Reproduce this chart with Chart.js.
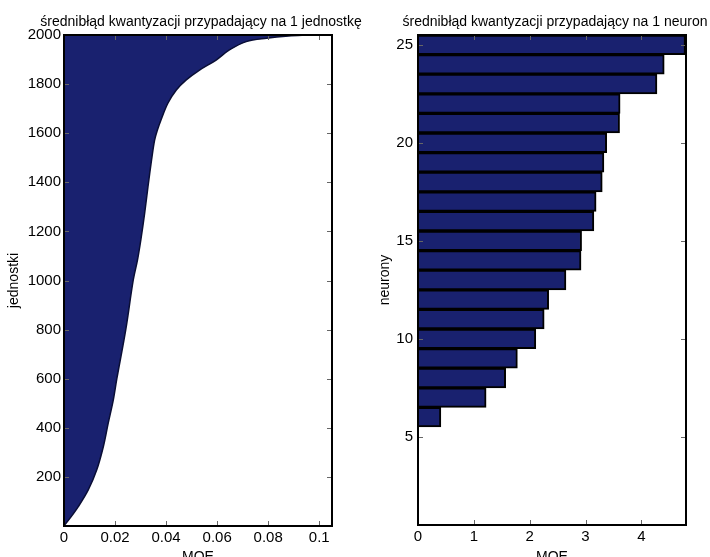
<!DOCTYPE html>
<html>
<head>
<meta charset="utf-8">
<script src="https://cdn.jsdelivr.net/npm/chart.js@4"></script>
<style>
  html, body { margin: 0; padding: 0; background: #fff; overflow: hidden; width: 710px; height: 557px; }
  .panel { position: absolute; top: 0; }
  #unitPanel { left: 0; }
  #neuronPanel { left: 355px; }
</style>
</head>
<body>
<div class="panel" id="unitPanel"><canvas id="unitChart" width="380" height="570"></canvas></div>
<div class="panel" id="neuronPanel"><canvas id="neuronChart" width="355" height="570"></canvas></div>
<script>
// sorted per-unit quantisation error (unit index -> MQE)
const unitIdx = [1, 31, 79, 147, 228, 323, 418, 513, 600, 800, 1000, 1084, 1165, 1274, 1382, 1491, 1572, 1613, 1654, 1722, 1776, 1817, 1857, 1898, 1939, 1973, 1987, 1996, 2000];
const unitMqe = [0, 0.0023, 0.0056, 0.0095, 0.0128, 0.0154, 0.0173, 0.0193, 0.0207, 0.0242, 0.0271, 0.0288, 0.0301, 0.0316, 0.0329, 0.0343, 0.0355, 0.0366, 0.0380, 0.0407, 0.044, 0.0479, 0.0531, 0.0596, 0.0648, 0.0714, 0.0793, 0.088, 0.096];

// per-neuron quantisation error (neurons 1-5 are empty)
const neuronIdx = [6, 7, 8, 9, 10, 11, 12, 13, 14, 15, 16, 17, 18, 19, 20, 21, 22, 23, 24, 25];
const neuronMqe = [0.41, 1.22, 1.57, 1.78, 2.11, 2.26, 2.34, 2.65, 2.92, 2.93, 3.15, 3.19, 3.30, 3.33, 3.38, 3.61, 3.62, 4.28, 4.41, 4.79];

const unitTicks = [200, 400, 600, 800, 1000, 1200, 1400, 1600, 1800, 2000];
const unitMqeTicks = [0, 0.02, 0.04, 0.06, 0.08, 0.1];
const neuronTicks = [5, 10, 15, 20, 25];
const neuronMqeTicks = [0, 1, 2, 3, 4];

const FONT = '"Liberation Sans", Arial, Helvetica, sans-serif';
const NAVY = '#19216f';

Chart.defaults.font.family = FONT;
Chart.defaults.font.size = 14;
Chart.defaults.color = '#000';

// box around the plot, inward tick marks on all four sides, and the title
const frame = {
  id: 'frame',
  afterDraw(chart, args, opts) {
    const { ctx, chartArea: a } = chart;
    const xs = chart.scales.x, ys = chart.scales.y;
    ctx.save();
    ctx.strokeStyle = '#666';
    ctx.lineWidth = 1;
    ctx.beginPath();
    xs.ticks.forEach(t => {
      const px = Math.round(xs.getPixelForValue(t.value)) + 0.5;
      ctx.moveTo(px, a.bottom); ctx.lineTo(px, a.bottom - 5);
      ctx.moveTo(px, a.top); ctx.lineTo(px, a.top + 5);
    });
    ys.ticks.forEach(t => {
      const py = Math.round(ys.getPixelForValue(t.value)) + 0.5;
      ctx.moveTo(a.left, py); ctx.lineTo(a.left + 5, py);
      ctx.moveTo(a.right, py); ctx.lineTo(a.right - 5, py);
    });
    ctx.stroke();
    ctx.strokeStyle = '#000';
    ctx.lineWidth = 2;
    ctx.strokeRect(a.left, a.top, a.right - a.left, a.bottom - a.top);
    ctx.fillStyle = '#000';
    ctx.font = '14px ' + FONT;
    ctx.textAlign = 'center';
    ctx.textBaseline = 'alphabetic';
    ctx.fillText(opts.text, (a.left + a.right) / 2 + 3, 26);
    ctx.restore();
  }
};

function fixedTicks(list) {
  return scale => { scale.ticks = list.map(v => ({ value: v })); };
}

function numLabel(v) { return String(parseFloat(Number(v).toFixed(4))); }

const noGrid = { display: false, drawTicks: false };
const tickFont = { size: 15 };

// left: area under the sorted MQE curve
new Chart(document.getElementById('unitChart'), {
  type: 'line',
  data: {
    datasets: [{
      data: unitIdx.map((u, i) => ({ x: unitMqe[i], y: u })),
      fill: 'origin',
      backgroundColor: NAVY,
      borderColor: '#0a0e35',
      borderWidth: 1.5,
      pointRadius: 0,
      tension: 0.35
    }]
  },
  options: {
    indexAxis: 'y',
    responsive: false,
    animation: false,
    layout: { padding: { top: 35, right: 48, left: 0, bottom: 0 } },
    plugins: {
      legend: { display: false },
      tooltip: { enabled: false },
      frame: { text: 'średnibłąd kwantyzacji przypadający na 1 jednostkę' }
    },
    scales: {
      x: {
        type: 'linear', min: 0, max: 0.105,
        grid: noGrid, border: { display: false },
        afterBuildTicks: fixedTicks(unitMqeTicks),
        afterFit: s => { s.height = 44; },
        ticks: { padding: 3, maxRotation: 0, font: tickFont, callback: numLabel },
        title: { display: true, text: 'MQE', padding: { top: 0, bottom: 4 } }
      },
      y: {
        type: 'linear', min: 0, max: 2000,
        grid: noGrid, border: { display: false },
        afterBuildTicks: fixedTicks(unitTicks),
        afterFit: s => { s.width = 64; },
        ticks: { padding: 3, font: tickFont, callback: numLabel },
        title: { display: true, text: 'jednostki', padding: { top: 6, bottom: 0 } }
      }
    }
  },
  plugins: [frame]
});

// right: horizontal bars per neuron
new Chart(document.getElementById('neuronChart'), {
  type: 'bar',
  data: {
    datasets: [{
      data: neuronIdx.map((n, i) => ({ x: neuronMqe[i], y: n })),
      backgroundColor: NAVY,
      borderColor: '#000',
      borderWidth: 2,
      borderSkipped: 'start',
      barPercentage: 1,
      categoryPercentage: 1
    }]
  },
  options: {
    indexAxis: 'y',
    responsive: false,
    animation: false,
    layout: { padding: { top: 35, right: 24, left: 0, bottom: 0 } },
    plugins: {
      legend: { display: false },
      tooltip: { enabled: false },
      frame: { text: 'średnibłąd kwantyzacji przypadający na 1 neuron' }
    },
    scales: {
      x: {
        type: 'linear', min: 0, max: 4.8,
        grid: noGrid, border: { display: false },
        afterBuildTicks: fixedTicks(neuronMqeTicks),
        afterFit: s => { s.height = 45; },
        ticks: { padding: 3, maxRotation: 0, font: tickFont, callback: numLabel },
        title: { display: true, text: 'MQE', padding: { top: 0, bottom: 4 } }
      },
      y: {
        type: 'linear', min: 0.5, max: 25.5, offset: false,
        grid: noGrid, border: { display: false },
        afterBuildTicks: fixedTicks(neuronTicks),
        afterFit: s => { s.width = 63; },
        ticks: { padding: 5, font: tickFont, callback: numLabel },
        title: { display: true, text: 'neurony', padding: { top: 22, bottom: 0 } }
      }
    }
  },
  plugins: [frame]
});
</script>
</body>
</html>
